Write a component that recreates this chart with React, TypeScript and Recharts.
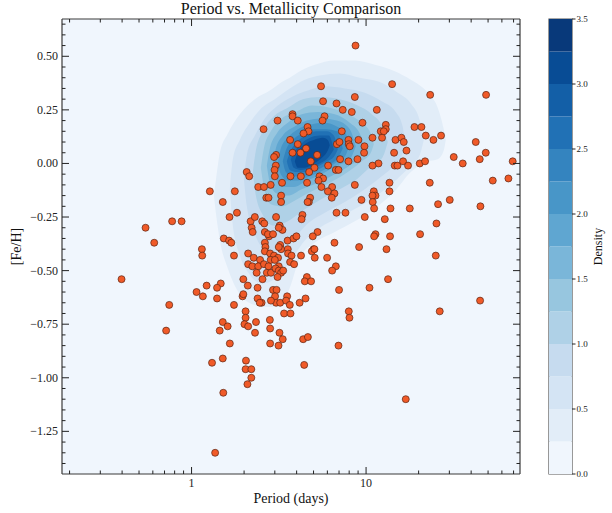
import {
  ComposedChart,
  BarChart,
  Area,
  Bar,
  Scatter,
  XAxis,
  YAxis,
  CartesianGrid,
  ReferenceArea,
} from "recharts";

// matplotlib "Blues" sampled at the middle of each 0.25-wide density band
const BAND_COLORS = [
  "#f0f6fd", "#e2edf8", "#d4e4f4", "#c6dbef", "#afd1e7", "#97c6df", "#7ab6d9",
  "#5fa6d1", "#4896c8", "#3484bf", "#2171b5", "#135fa7", "#084c95", "#08397a",
];
const CB_BOUNDS = [0, 0.25, 0.5, 0.75, 1, 1.25, 1.5, 1.75, 2, 2.25, 2.5, 2.75, 3, 3.25, 3.5];
const CB_TICKS = [0, 0.5, 1, 1.5, 2, 2.5, 3, 3.5];

const X_DOMAIN = [0.181, 76.2];
const Y_DOMAIN = [-1.449, 0.674];
const X_MAJOR = [1, 10];
const X_MINOR = [0.2, 0.3, 0.4, 0.5, 0.6, 0.7, 0.8, 0.9, 2, 3, 4, 5, 6, 7, 8, 9, 20, 30, 40, 50, 60, 70];
const Y_MAJOR = [0.5, 0.25, 0, -0.25, -0.5, -0.75, -1, -1.25];
const Y_MINOR = [
  0.65, 0.6, 0.55, 0.45, 0.4, 0.35, 0.3, 0.2, 0.15, 0.1, 0.05, -0.05, -0.1, -0.15, -0.2,
  -0.3, -0.35, -0.4, -0.45, -0.55, -0.6, -0.65, -0.7, -0.8, -0.85, -0.9, -0.95,
  -1.05, -1.1, -1.15, -1.2, -1.3, -1.35, -1.4,
];

// KDE contour outlines: [period, upper [Fe/H], lower [Fe/H]]
const KDE_025 = [
  [1.342, -0.15, -0.15], [1.378, -0.08, -0.23], [1.453, 0.05, -0.36], [1.614, 0.14, -0.49],
  [1.891, 0.23, -0.61], [2.305, 0.3, -0.66], [2.809, 0.34, -0.67], [3.29, 0.38, -0.65],
  [3.656, 0.4, -0.58], [4.172, 0.43, -0.44], [5.084, 0.46, -0.37], [6.618, 0.48, -0.32],
  [8.616, 0.48, -0.27], [11.22, 0.46, -0.21], [14.6, 0.43, -0.13], [18.04, 0.39, -0.04],
  [22.57, 0.33, 0.01], [25.74, 0.26, 0.02], [27.86, 0.16, 0.06], [28.61, 0.11, 0.11],
];
const KDE_050 = [
  [1.657, -0.12, -0.12], [1.724, 0.02, -0.29], [1.891, 0.11, -0.43], [2.158, 0.19, -0.52],
  [2.527, 0.26, -0.56], [3.0, 0.3, -0.54], [3.656, 0.35, -0.46], [4.456, 0.39, -0.36],
  [5.431, 0.41, -0.3], [7.069, 0.42, -0.25], [9.203, 0.4, -0.2], [11.98, 0.38, -0.14],
  [15.19, 0.33, -0.07], [18.04, 0.28, -0.01], [20.31, 0.2, 0.04], [21.13, 0.12, 0.09],
  [21.41, 0.11, 0.11],
];
const KDE_075 = [
  [1.994, -0.07, -0.07], [2.074, 0.04, -0.2], [2.305, 0.13, -0.33], [2.63, 0.21, -0.4],
  [3.121, 0.27, -0.41], [3.754, 0.31, -0.36], [4.636, 0.34, -0.28], [5.801, 0.36, -0.23],
  [7.551, 0.35, -0.18], [9.831, 0.33, -0.12], [12.3, 0.29, -0.06], [14.79, 0.24, 0.0],
  [16.23, 0.17, 0.05], [16.66, 0.1, 0.1],
];
const KDE_100 = [
  [2.245, -0.04, -0.04], [2.336, 0.06, -0.15], [2.561, 0.15, -0.24], [2.961, 0.22, -0.29],
  [3.56, 0.26, -0.27], [4.341, 0.3, -0.22], [5.431, 0.31, -0.17], [7.069, 0.3, -0.12],
  [8.963, 0.27, -0.07], [10.78, 0.23, -0.01], [12.46, 0.17, 0.03], [13.31, 0.1, 0.1],
];
const KDE_125 = [
  [2.494, -0.02, -0.02], [2.596, 0.07, -0.11], [2.846, 0.15, -0.19], [3.29, 0.21, -0.2],
  [3.957, 0.24, -0.17], [4.888, 0.27, -0.13], [6.196, 0.26, -0.09], [7.856, 0.23, -0.04],
  [9.449, 0.19, 0.01], [10.64, 0.14, 0.05], [11.07, 0.09, 0.09],
];
const KDE_150 = [
  [2.7, -0.01, -0.01], [2.809, 0.07, -0.09], [3.08, 0.14, -0.14], [3.56, 0.19, -0.15],
  [4.284, 0.23, -0.12], [5.29, 0.24, -0.09], [6.618, 0.23, -0.05], [8.066, 0.19, -0.01],
  [9.203, 0.14, 0.03], [9.702, 0.08, 0.08],
];
const KDE_175 = [
  [2.923, 0.0, 0.0], [3.04, 0.07, -0.07], [3.333, 0.13, -0.11], [3.854, 0.17, -0.11],
  [4.575, 0.2, -0.08], [5.576, 0.21, -0.05], [6.795, 0.2, -0.01], [8.066, 0.16, 0.02],
  [8.73, 0.08, 0.08],
];
const KDE_200 = [
  [3.121, 0.0, 0.0], [3.247, 0.07, -0.05], [3.56, 0.12, -0.08], [4.063, 0.16, -0.08],
  [4.76, 0.18, -0.06], [5.725, 0.19, -0.03], [6.886, 0.17, 0.01], [7.651, 0.14, 0.04],
  [7.96, 0.08, 0.08],
];
const KDE_225 = [
  [3.333, 0.01, 0.01], [3.468, 0.06, -0.04], [3.804, 0.11, -0.06], [4.284, 0.14, -0.06],
  [4.953, 0.16, -0.04], [5.878, 0.16, -0.01], [6.795, 0.15, 0.02], [7.353, 0.07, 0.07],
];
const KDE_250 = [
  [3.514, 0.01, 0.01], [3.656, 0.05, -0.03], [4.01, 0.1, -0.04], [4.515, 0.13, -0.04],
  [5.152, 0.15, -0.02], [5.956, 0.15, 0.01], [6.531, 0.13, 0.03], [6.886, 0.065, 0.065],
];
const KDE_275 = [
  [3.705, 0.02, 0.02], [3.854, 0.05, -0.02], [4.227, 0.09, -0.03], [4.76, 0.12, -0.02],
  [5.431, 0.13, 0.0], [6.115, 0.13, 0.03], [6.531, 0.065, 0.065],
];
const KDE_300 = [
  [3.905, 0.01, 0.01], [4.063, 0.05, -0.02], [4.456, 0.09, -0.02], [5.018, 0.11, 0.0],
  [5.65, 0.12, 0.03], [6.035, 0.11, 0.06], [6.196, 0.085, 0.085],
];
const KDE_LEVELS = [
  KDE_025, KDE_050, KDE_075, KDE_100, KDE_125, KDE_150,
  KDE_175, KDE_200, KDE_225, KDE_250, KDE_275, KDE_300,
];

// [period (days), [Fe/H]]
const STARS = [
  [5.52, 0.36], [14.1, 0.37], [23.3, 0.32], [8.62, 0.31], [5.67, 0.29], [6.77, 0.28], [7.35, 0.25],
  [8.28, 0.24], [11.52, 0.25], [3.79, 0.23], [3.79, 0.22], [5.78, 0.22], [5.63, 0.2], [3.11, 0.2],
  [4.06, 0.2], [9.54, 0.19], [12.97, 0.18], [12.97, 0.16], [12.14, 0.15], [12.63, 0.15], [12.35, 0.12],
  [18.93, 0.17], [20.77, 0.17], [2.585, 0.16], [4.62, 0.17], [4.68, 0.15], [4.38, 0.14], [7.26, 0.15],
  [21.98, 0.13], [26.89, 0.13], [24.32, 0.11], [10.88, 0.12], [14.74, 0.11], [15.95, 0.12], [16.44, 0.1],
  [3.67, 0.11], [4.06, 0.09], [4.53, 0.07], [6.8, 0.09], [7.04, 0.1], [7.93, 0.11], [7.96, 0.09],
  [8.07, 0.08], [9.04, 0.11], [9.79, 0.08], [9.74, 0.05], [5.24, 0.04], [3.79, 0.05], [4.21, 0.05],
  [3.05, 0.04], [2.97, 0.03], [17.04, 0.06], [14.47, 0.05], [31.79, 0.03], [4.82, 0.01], [7.1, 0.02],
  [8.93, 0.02], [7.93, 0.01], [11.78, 0.0], [10.88, -0.01], [14.6, -0.01], [15.13, -0.01], [16.29, 0.01],
  [17.4, -0.01], [20.31, 0.0], [21.78, 0.01], [3.04, -0.01], [6.06, -0.01], [6.71, -0.03], [6.95, -0.03],
  [2.99, -0.03], [5.06, -0.02], [2.07, -0.04], [2.14, -0.06], [3.0, -0.06], [3.69, -0.06], [4.23, -0.06],
  [4.72, -0.04], [5.41, -0.06], [5.67, -0.07], [5.34, -0.08], [4.59, -0.09], [6.39, -0.11], [5.55, -0.11],
  [3.3, -0.09], [2.84, -0.1], [2.41, -0.11], [2.6, -0.11], [8.62, -0.1], [13.62, -0.09], [23.17, -0.09],
  [1.273, -0.13], [1.77, -0.13], [6.04, -0.13], [6.59, -0.14], [6.36, -0.16], [3.26, -0.15], [3.26, -0.18],
  [2.68, -0.16], [2.76, -0.16], [4.78, -0.16], [4.7, -0.18], [4.62, -0.18], [11.07, -0.13], [11.32, -0.15],
  [10.88, -0.15], [10.92, -0.18], [13.62, -0.13], [9.41, -0.17], [1.51, -0.18], [30.16, -0.17],
  [25.85, -0.19], [11.12, -0.21], [13.8, -0.21], [17.8, -0.21], [6.77, -0.23], [7.62, -0.23], [1.82, -0.23],
  [3.05, -0.25], [4.32, -0.24], [4.27, -0.26], [1.65, -0.25], [9.83, -0.25], [12.8, -0.26], [25.31, -0.28],
  [2.18, -0.27], [2.305, -0.25], [2.54, -0.27], [2.61, -0.28], [3.2, -0.29], [3.32, -0.31], [3.16, -0.3],
  [2.21, -0.3], [2.24, -0.32], [5.27, -0.32], [4.95, -0.34], [11.32, -0.33], [11.12, -0.34], [13.72, -0.34],
  [20.39, -0.33], [2.63, -0.32], [2.78, -0.34], [2.74, -0.33], [2.93, -0.33], [1.53, -0.35], [1.64, -0.36],
  [1.69, -0.37], [3.55, -0.36], [3.84, -0.35], [3.99, -0.34], [6.59, -0.37], [2.63, -0.37], [2.65, -0.39],
  [2.63, -0.41], [3.22, -0.38], [3.26, -0.4], [3.16, -0.39], [3.56, -0.4], [9.12, -0.39], [13.09, -0.4],
  [5.0, -0.4], [4.89, -0.41], [5.06, -0.4], [1.75, -0.43], [2.11, -0.42], [2.27, -0.44], [2.47, -0.45],
  [2.82, -0.42], [2.97, -0.43], [2.84, -0.45], [3.13, -0.44], [3.0, -0.45], [3.57, -0.42], [3.74, -0.43],
  [4.24, -0.43], [5.08, -0.44], [5.98, -0.44], [25.08, -0.43], [2.11, -0.47], [2.23, -0.48], [2.41, -0.48],
  [2.6, -0.47], [2.76, -0.48], [3.16, -0.48], [3.67, -0.46], [3.87, -0.47], [6.71, -0.48], [6.39, -0.5],
  [2.36, -0.51], [2.7, -0.51], [2.85, -0.51], [3.03, -0.49], [3.16, -0.5], [3.26, -0.51], [3.35, -0.5],
  [3.11, -0.53], [2.55, -0.54], [1.98, -0.54], [4.58, -0.53], [4.456, -0.55], [4.84, -0.55], [13.36, -0.54],
  [1.47, -0.56], [1.4, -0.58], [1.22, -0.57], [2.1, -0.57], [2.39, -0.58], [2.93, -0.59], [3.07, -0.59],
  [7.0, -0.59], [10.46, -0.58], [1.96, -0.62], [1.98, -0.61], [2.39, -0.63], [2.52, -0.65], [2.46, -0.65],
  [3.01, -0.62], [3.05, -0.65], [2.85, -0.64], [3.22, -0.65], [3.53, -0.62], [3.48, -0.64], [3.656, -0.66],
  [4.5, -0.63], [4.16, -0.65], [1.4, -0.63], [1.75, -0.66],
  [8.7, 0.55], [48.7, 0.32], [42.5, 0.1], [48.5, 0.05], [44.8, 0.02], [35.8, 0.0], [69.2, 0.01],
  [53.2, -0.08], [65.4, -0.07], [45.2, -0.2], [45.0, -0.64], [7.96, -0.69], [8.03, -0.72], [26.43, -0.69],
  [6.95, -0.85], [16.88, -1.1], [0.545, -0.3], [0.774, -0.27], [0.877, -0.27], [0.611, -0.37],
  [1.146, -0.4], [1.151, -0.43], [0.397, -0.54], [0.745, -0.66], [0.715, -0.78], [1.068, -0.6],
  [1.161, -0.62], [2.04, -0.69], [2.04, -0.72], [2.01, -0.75], [2.11, -0.76], [2.34, -0.74], [2.31, -0.79],
  [2.81, -0.73], [2.82, -0.77], [2.82, -0.84], [3.19, -0.79], [3.15, -0.85], [3.33, -0.82], [3.39, -0.7],
  [3.69, -0.7], [1.51, -0.74], [1.45, -0.78], [1.61, -0.76], [1.657, -0.84], [1.51, -0.91], [1.31, -0.93],
  [2.05, -0.92], [2.04, -0.96], [2.2, -0.96], [2.2, -1.0], [2.09, -1.03], [1.52, -1.07], [1.365, -1.35],
  [4.36, -0.82], [4.42, -0.94], [4.64, -0.81],
];

const W = 612;
const H = 513;
const FONT = "'Liberation Serif', 'Times New Roman', serif";
const SPINE = { stroke: "#3a3a3a", strokeWidth: 1.2 };
const TICK_COLOR = "#222";

// one row per sampled period, each contour level holds [lower, upper]
const contourRows = (() => {
  const byP = new Map<number, any>();
  KDE_LEVELS.forEach((pts, k) => {
    pts.forEach(([p, hi, lo]) => {
      const row = byP.get(p) ?? { p };
      row[`c${k}`] = [lo, hi];
      byP.set(p, row);
    });
  });
  return [...byP.values()].sort((a, b) => a.p - b.p);
})();

const starRows = STARS.map(([p, feh]) => ({ p, feh }));
const cbRow = Object.fromEntries(
  CB_BOUNDS.slice(1).map((b, i) => [`b${i}`, b - CB_BOUNDS[i]])
);

const isMajor = (v: number, majors: number[]) => majors.some((m) => Math.abs(m - v) < 1e-9);
const fmtY = (v: number) => v.toFixed(2).replace("-", "\u2212");

function BottomTick({ x, y, payload }: any) {
  const major = isMajor(payload.value, X_MAJOR);
  return (
    <g>
      <line x1={x} x2={x} y1={y} y2={y - (major ? 7 : 3.5)} stroke={TICK_COLOR} strokeWidth={1} />
      {major && (
        <text x={x} y={y + 13} textAnchor="middle" fontSize={12} fontFamily={FONT} fill="#222">
          {payload.value}
        </text>
      )}
    </g>
  );
}

function TopTick({ x, y, payload }: any) {
  const major = isMajor(payload.value, X_MAJOR);
  return <line x1={x} x2={x} y1={y} y2={y + (major ? 7 : 3.5)} stroke={TICK_COLOR} strokeWidth={1} />;
}

function LeftTick({ x, y, payload }: any) {
  const major = isMajor(payload.value, Y_MAJOR);
  return (
    <g>
      <line x1={x} x2={x + (major ? 7 : 3.5)} y1={y} y2={y} stroke={TICK_COLOR} strokeWidth={1} />
      {major && (
        <text x={x - 4} y={y} dy={4} textAnchor="end" fontSize={12} fontFamily={FONT} fill="#222">
          {fmtY(payload.value)}
        </text>
      )}
    </g>
  );
}

function RightTick({ x, y, payload }: any) {
  const major = isMajor(payload.value, Y_MAJOR);
  return <line x1={x} x2={x - (major ? 7 : 3.5)} y1={y} y2={y} stroke={TICK_COLOR} strokeWidth={1} />;
}

function ColorbarTick({ x, y, payload }: any) {
  return (
    <g>
      <line x1={x} x2={x + 3.5} y1={y} y2={y} stroke={TICK_COLOR} strokeWidth={1} />
      <text x={x + 4.5} y={y} dy={3.2} fontSize={9} fontFamily={FONT} fill="#222">
        {payload.value.toFixed(1)}
      </text>
    </g>
  );
}

function StarDot(props: any) {
  return (
    <circle cx={props.cx} cy={props.cy} r={3.5} fill="#f05a28" stroke="#5a2412" strokeWidth={0.7} />
  );
}

const layer = { position: "absolute" as const, left: 0, top: 0 };

export default function App() {
  return (
    <div style={{ position: "absolute", left: 0, top: 0, width: W, height: H, background: "#fff" }}>
      <div style={layer}>
        <ComposedChart
          width={W}
          height={H}
          data={contourRows}
          margin={{ top: 18, right: 91, bottom: 9, left: 2 }}
        >
          <CartesianGrid fill={BAND_COLORS[0]} fillOpacity={1} horizontal={false} vertical={false} />
          <XAxis
            dataKey="p"
            type="number"
            scale="log"
            domain={X_DOMAIN}
            allowDataOverflow
            ticks={[...X_MINOR, ...X_MAJOR]}
            interval={0}
            height={30}
            tickSize={0}
            tickMargin={0}
            tickLine={false}
            axisLine={SPINE}
            tick={BottomTick}
          />
          <XAxis
            xAxisId="top"
            orientation="top"
            dataKey="p"
            type="number"
            scale="log"
            domain={X_DOMAIN}
            allowDataOverflow
            ticks={[...X_MINOR, ...X_MAJOR]}
            interval={0}
            height={1}
            tickSize={0}
            tickMargin={0}
            tickLine={false}
            axisLine={SPINE}
            tick={TopTick}
          />
          <YAxis
            type="number"
            domain={Y_DOMAIN}
            allowDataOverflow
            ticks={[...Y_MINOR, ...Y_MAJOR]}
            interval={0}
            width={60}
            tickSize={0}
            tickMargin={0}
            tickLine={false}
            axisLine={SPINE}
            tick={LeftTick}
          />
          <YAxis
            yAxisId="right"
            orientation="right"
            type="number"
            domain={Y_DOMAIN}
            allowDataOverflow
            ticks={[...Y_MINOR, ...Y_MAJOR]}
            interval={0}
            width={1}
            tickSize={0}
            tickMargin={0}
            tickLine={false}
            axisLine={SPINE}
            tick={RightTick}
          />
          {KDE_LEVELS.map((_, k) => (
            <Area
              key={k}
              dataKey={`c${k}`}
              type="monotone"
              connectNulls
              fill={BAND_COLORS[k + 1]}
              fillOpacity={1}
              stroke="none"
              dot={false}
              activeDot={false}
              isAnimationActive={false}
            />
          ))}
          <Scatter data={starRows} dataKey="feh" shape={StarDot} isAnimationActive={false} />
        </ComposedChart>
      </div>

      <div style={layer}>
        <BarChart
          width={W}
          height={H}
          data={[{ name: "density", ...cbRow }]}
          margin={{ top: 19, right: 10, bottom: 39, left: 549 }}
          barCategoryGap={0}
        >
          <XAxis dataKey="name" hide />
          <YAxis
            orientation="right"
            type="number"
            domain={[0, 3.5]}
            allowDataOverflow
            ticks={CB_TICKS}
            interval={0}
            width={30}
            tickSize={0}
            tickMargin={0}
            tickLine={false}
            axisLine={false}
            tick={ColorbarTick}
          />
          {CB_BOUNDS.slice(1).map((_, i) => (
            <Bar key={i} dataKey={`b${i}`} stackId="cb" fill={BAND_COLORS[i]} isAnimationActive={false} />
          ))}
          <ReferenceArea y1={0} y2={3.5} fill="none" stroke="#555" strokeWidth={1.2} ifOverflow="visible" />
        </BarChart>
      </div>

      <svg width={W} height={H} style={{ ...layer, pointerEvents: "none" }} fontFamily={FONT} fill="#111">
        <text x={291} y={14} textAnchor="middle" fontSize={16}>
          Period vs. Metallicity Comparison
        </text>
        <text x={291} y={503} textAnchor="middle" fontSize={14}>
          Period (days)
        </text>
        <text x={20.5} y={246.5} textAnchor="middle" fontSize={14} transform="rotate(-90 20.5 246.5)">
          [Fe/H]
        </text>
        <text x={601.5} y={246.5} textAnchor="middle" fontSize={12} transform="rotate(-90 601.5 246.5)">
          Density
        </text>
      </svg>
    </div>
  );
}
